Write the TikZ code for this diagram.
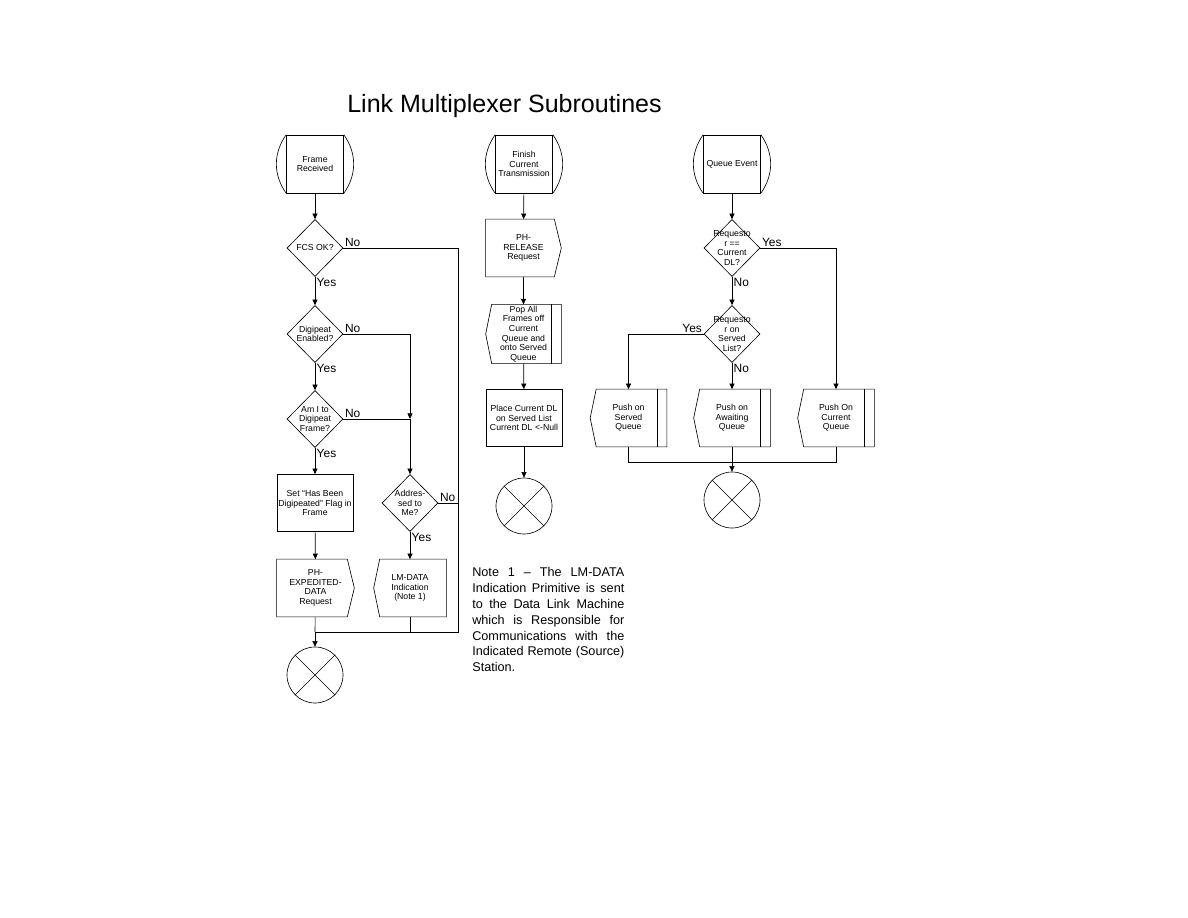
\documentclass[tikz,border=0pt]{standalone}
\usepackage{fontspec}
\setmainfont{Liberation Sans}
\usetikzlibrary{shapes.geometric, arrows.meta}

\begin{document}
\begin{tikzpicture}[
    x=0.025cm, y=-0.025cm,
    line width=0.45pt,
    every node/.style={font=\fontsize{6.2}{6.8}\selectfont, align=center},
    terminal/.style={rectangle, draw, minimum width=1.425cm, minimum height=1.45cm, inner sep=1pt,
        append after command={
            (\tikzlastnode.north west) edge[bend right=35] (\tikzlastnode.south west)
            (\tikzlastnode.north east) edge[bend left=35] (\tikzlastnode.south east)}},
    decision/.style={diamond, draw, minimum width=1.4cm, minimum height=1.425cm, inner sep=-4pt},
    process/.style={rectangle, draw, minimum width=1.9cm, minimum height=1.425cm, inner sep=1pt},
    sendbox/.style={rectangle, minimum width=1.9cm, minimum height=1.425cm, inner sep=1pt,
        append after command={
            (\tikzlastnode.north west) edge[to path={-- ([xshift=-0.175cm]\tikzlastnode.north east)
                -- (\tikzlastnode.east) -- ([xshift=-0.175cm]\tikzlastnode.south east)
                -- (\tikztotarget) -- cycle}] (\tikzlastnode.south west)}},
    recvbox/.style={rectangle, minimum width=1.8cm, minimum height=1.425cm, inner sep=1pt,
        append after command={
            (\tikzlastnode.west) edge[to path={-- ([xshift=0.15cm]\tikzlastnode.north west)
                -- (\tikzlastnode.north east) -- (\tikzlastnode.south east)
                -- ([xshift=0.15cm]\tikzlastnode.south west) -- cycle}] (\tikzlastnode.east)}},
    queuebox/.style={recvbox, minimum width=1.9cm,
        append after command={
            ([xshift=-0.25cm]\tikzlastnode.north east) edge ([xshift=-0.25cm]\tikzlastnode.south east)}},
    stop/.style={circle, draw, minimum size=1.4cm, inner sep=0pt,
        append after command={
            (\tikzlastnode.north west) edge (\tikzlastnode.south east)
            (\tikzlastnode.north east) edge (\tikzlastnode.south west)}},
    answer/.style={font=\fontsize{8.5}{10}\selectfont, inner sep=1pt},
    arrow/.style={-{Triangle[length=4pt, width=3.6pt]}}
]
    \useasboundingbox (0,0) rectangle (1188,918);

    \node[font=\fontsize{17.8}{20}\selectfont, anchor=base] (title) at (504.5,113) {Link Multiplexer Subroutines};

    % frame received
    \node[terminal] (fr) at (315,164) {Frame\\Received};
    \node[decision] (fcs) at (315,248) {FCS OK?};
    \node[decision] (dig) at (315,334) {Digipeat\\Enabled?};
    \node[decision] (ami) at (315,419) {Am I to\\Digipeat\\Frame?};
    \node[process, minimum width=1.875cm] (set) at (315,503) {Set ``Has Been\\Digipeated'' Flag in\\Frame};
    \node[sendbox, minimum width=1.925cm] (phx) at (315.5,588) {PH-\\EXPEDITED-\\DATA\\Request};
    \node[stop] (end1) at (315,675) {};
    \node[decision] (adr) at (410,503) {Addres-\\sed to\\Me?};
    \node[recvbox] (lmd) at (410,588) {LM-DATA\\Indication\\(Note 1)};
    \coordinate (j1) at (410,419);
    \coordinate (c1) at (458,632);
    \coordinate (m1) at (315,632);

    \draw[arrow] (fr) -- (fcs);
    \draw[arrow] (fcs) -- (dig) node[answer, pos=0, anchor=north west] (yes1) {Yes};
    \draw[arrow] (dig) -- (ami) node[answer, pos=0, anchor=north west] (yes2) {Yes};
    \draw[arrow] (ami) -- (set) node[answer, pos=0, anchor=north west] (yes3) {Yes};
    \draw[arrow] (set) -- (phx);
    \draw (fcs.east) node[answer, anchor=south west] (no1) {No} -| (c1) -- (m1);
    \draw[arrow] (dig.east) node[answer, anchor=south west] (no2) {No} -| (j1);
    \draw (ami.east) node[answer, anchor=south west] (no3) {No} -- (j1);
    \draw[arrow] (j1) -- (adr);
    \draw (adr.east) node[answer, anchor=south west] (no4) {No} -- (adr.east -| c1);
    \draw[arrow] (adr) -- (lmd) node[answer, pos=0, anchor=north west] (yes4) {Yes};
    \draw (phx) -- (m1);
    \draw (lmd) -- (lmd |- m1);
    \draw[arrow] (m1) -- (end1);

    \node[font=\fontsize{9}{11.3}\selectfont, text width=3.8cm, align=justify, anchor=north west, inner sep=0pt] (note) at (472,567)
        {Note 1 – The LM-DATA\linebreak Indication Primitive is sent\linebreak to the Data Link Machine\linebreak which is Responsible for\linebreak Communications with the\linebreak Indicated Remote (Source)\linebreak Station.};

    % finish current transmission
    \node[terminal] (fct) at (524,164) {Finish\\Current\\Transmission};
    \node[sendbox, minimum width=1.875cm] (phr) at (523.5,248) {PH-\\RELEASE\\Request};
    \node[queuebox, minimum width=1.875cm] (pop) at (523.5,334) {Pop All\\Frames off\\Current\\Queue and\\onto Served\\Queue};
    \node[process] (place) at (524,418) {Place Current DL\\on Served List\\Current DL <-Null};
    \node[stop] (end2) at (524,506) {};

    \draw[arrow] (fct) -- (phr);
    \draw[arrow] (phr) -- (pop);
    \draw[arrow] (pop) -- (place);
    \draw[arrow] (place) -- (end2);

    % queue event
    \node[terminal] (qe) at (732,164) {Queue Event};
    \node[decision] (cur) at (732,248) {Requesto\\r ==\\Current\\DL?};
    \node[decision] (srv) at (732,334) {Requesto\\r on\\Served\\List?};
    \node[queuebox] (pss) at (628.5,418) {Push on\\Served\\Queue};
    \node[queuebox] (paw) at (732,418) {Push on\\Awaiting\\Queue};
    \node[queuebox] (pcu) at (836,418) {Push On\\Current\\Queue};
    \node[stop] (end3) at (732,500) {};
    \coordinate (m3) at (732,462);

    \draw[arrow] (qe) -- (cur);
    \draw[arrow] (cur.east) node[answer, anchor=south west] (yes5) {Yes} -| (pcu);
    \draw[arrow] (cur) -- (srv) node[answer, pos=0, anchor=north west] (no5) {No};
    \draw[arrow] (srv.west) node[answer, anchor=south east] (yes6) {Yes} -| (pss);
    \draw[arrow] (srv) -- (paw) node[answer, pos=0, anchor=north west] (no6) {No};
    \draw (pss) -- (pss |- m3) -- (pcu |- m3) -- (pcu);
    \draw (paw) -- (m3);
    \draw[arrow] (m3) -- (end3);
\end{tikzpicture}
\end{document}
